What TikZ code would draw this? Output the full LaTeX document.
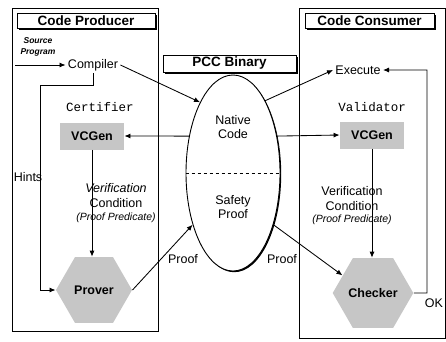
\documentclass[tikz,border=0pt]{standalone}
\usepackage{fontspec}
\setmainfont{Liberation Sans}
\setmonofont{Liberation Mono}
\usetikzlibrary{shapes.geometric,arrows.meta,shadows}

\begin{document}
\begin{tikzpicture}%
                    [x=1pt, y=-1pt,
                    line width=0.85pt,
                    >={Latex[length=6pt,width=5pt]},
                    side/.style={draw, fill=white, inner sep=0pt, line width=0.9pt,
                                 drop shadow={shadow xshift=1pt, shadow yshift=-1pt, opacity=1, fill=black}},
                    title/.style={draw, fill=white, inner sep=0pt, line width=0.9pt,
                                  font=\fontsize{13.5}{14}\selectfont\bfseries,
                                  drop shadow={shadow xshift=1.8pt, shadow yshift=-1.8pt, opacity=1, fill=black}},
                    txt/.style={inner sep=2pt, font=\fontsize{12.5}{14}\selectfont},
                    tool/.style={inner sep=2pt, font=\ttfamily\fontsize{12.5}{14}\selectfont},
                    gen/.style={fill=gray!45, minimum width=64pt, minimum height=27pt, inner sep=0pt,
                                font=\bfseries\fontsize{12.5}{14}\selectfont},
                    hexa/.style={regular polygon, regular polygon sides=6, minimum size=76pt, inner sep=0pt,
                                 fill=gray!45, font=\bfseries\fontsize{12.5}{14}\selectfont},
                    vc/.style={align=center, inner sep=0pt, font=\fontsize{12.5}{15}\selectfont}]

                \useasboundingbox (0,0) rectangle (446,341);
                %% The two sides
                \node[side, minimum width=146pt, minimum height=323pt] (producer) at (85,169.5) {};
                \node[side, minimum width=146pt, minimum height=330pt] (consumer) at (372,173) {};
                \node[title, minimum width=138pt, minimum height=15pt] (ptitle) at (86,20.5) {Code Producer};
                \node[title, minimum width=129pt, minimum height=15pt] (ctitle) at (369.5,20.5) {Code Consumer};
                %%
                %% The binary
                %%
                \node[title, minimum width=133pt, minimum height=17pt] (btitle) at (229.5,63.5) {PCC Binary};
                \node[ellipse, draw, fill=white, line width=0.9pt, minimum width=94pt, minimum height=196pt,
                      drop shadow={shadow xshift=1.2pt, shadow yshift=-1.2pt, opacity=1, fill=black}] (pcc) at (233,173) {};
                \draw[dashed, line width=0.7pt] (pcc.west) -- (pcc.east);
                \node[txt, align=center] (native) at (233,127) {Native\\Code};
                \node[txt, align=center] (safety) at (233,207) {Safety\\Proof};
                %%
                %% Producer side
                %%
                \node[align=center, font=\bfseries\itshape\fontsize{8.5}{10.5}\selectfont] (source) at (38,47) {Source\\Program};
                \coordinate (srcin) at (15,65);
                \node[txt] (compiler) at (93,65) {Compiler};
                \node[tool] (certifier) at (100,107) {Certifier};
                \node[gen] (vcgenL) at (92,136) {VCGen};
                \node[hexa] (prover) at (94,290) {Prover};
                \node[vc] (vcL) at (116,203) {{\itshape Verification}\\Condition\\[-2pt]{\itshape\fontsize{10.5}{12}\selectfont (Proof Predicate)}};
                \node[txt] (hints) at (28,177) {Hints};
                \coordinate (hintbend) at (40,85);
                \node[txt] (proofL) at (183,259) {Proof};
                %%
                %% Consumer side
                %%
                \node[txt] (execute) at (358,70) {Execute};
                \node[tool] (validator) at (372,107) {Validator};
                \node[gen] (vcgenR) at (372,135) {VCGen};
                \node[hexa] (checker) at (373,293) {Checker};
                \node[vc] (vcR) at (352,206) {Verification\\Condition\\[-3pt]{\itshape\fontsize{10.5}{12}\selectfont (Proof Predicate)}};
                \node[txt] (proofR) at (282,259) {Proof};
                \node[txt] (ok) at (434,303) {OK};
                \coordinate (okbend) at (427,293);
                %%
                %% Connectors
                %%
                \draw[->] (srcin) -- (compiler.west);
                \draw[->] (compiler.east) -- (pcc.115);
                \draw[->] (compiler.south) |- (hintbend) |- (prover.west);
                \draw[->] (pcc.140) -- (vcgenL.east);
                \draw[->] (vcgenL.south) -- (vcgenL.south |- prover.north);
                \draw[->] (prover.east) -- (pcc.232);
                \draw[->] (pcc.66) -- (execute.west);
                \draw[->] (pcc.40) -- (vcgenR.west);
                \draw[->] (vcgenR.south) -- (vcgenR.south |- checker.north);
                \draw[->] (pcc.-52) -- (checker.150);
                \draw[->] (checker.east) -- (okbend) |- (execute.east);
                %%
                %%
                \end{tikzpicture}
\end{document}
